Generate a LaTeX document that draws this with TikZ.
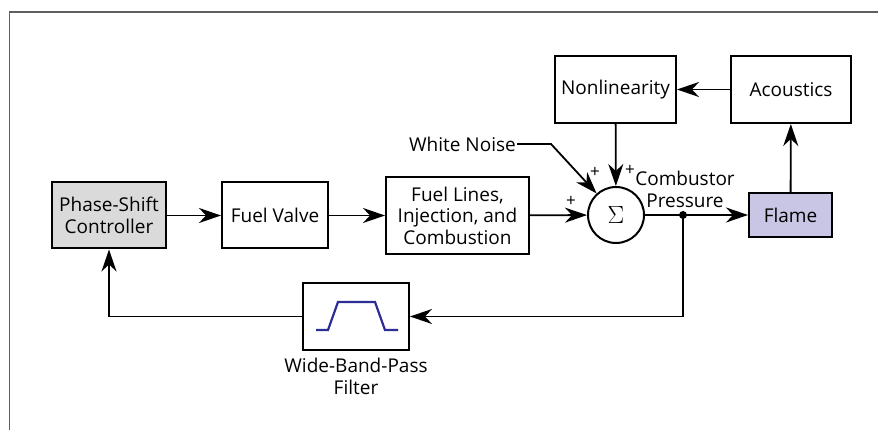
\documentclass[tikz,border=0pt]{standalone}
\usepackage{fontspec}
\setmainfont{Open Sans}
\usepackage{tikz}
\usetikzlibrary{arrows.meta}
\usepackage{xcolor}
\definecolor{framegray}{RGB}{95,95,95}
\definecolor{ctrlfill}{RGB}{218,218,218}
\definecolor{flamefill}{RGB}{200,198,228}
\definecolor{passblue}{RGB}{45,45,150}

\begin{document}
\begin{tikzpicture}[x=1pt,y=1pt,xscale=1,yscale=-1,
  blk/.style={draw, line width=2pt, align=center, inner sep=1pt, font=\fontsize{19}{21.5}\selectfont},
  wire/.style={line width=1.8pt},
  arr/.style={wire, -{Stealth[length=22pt,width=15pt,inset=7pt]}},
  sgn/.style={inner sep=0pt, font=\fontsize{17}{17}\selectfont}]
\useasboundingbox (0,0) rectangle (878,430);

%Shape: Frame
\draw [framegray, line width=1.6pt] (9.5,430) -- (9.5,12) -- (878,12) ;

%Shape: Blocks
\draw (109,215.5) node [blk, fill=ctrlfill, minimum width=114pt, minimum height=66pt] (ctrl) {Phase-Shift\\Controller};
\draw (275,215.5) node [blk, minimum width=106pt, minimum height=66pt] (valve) {Fuel Valve};
\draw (457.5,215.5) node [blk, minimum width=143pt, minimum height=77pt] (lines) {Fuel Lines,\\Injection, and\\Combustion};
\draw (616,215) node [circle, draw, line width=2pt, minimum size=56pt, inner sep=0pt, font=\fontsize{30}{30}\selectfont] (sum) {$\Sigma$};
\draw (615.5,89.5) node [blk, minimum width=121pt, minimum height=67pt] (nonlin) {Nonlinearity};
\draw (791,89.5) node [blk, minimum width=120pt, minimum height=67pt] (acoust) {Acoustics};
\draw (790.5,215) node [blk, fill=flamefill, minimum width=83pt, minimum height=44pt] (flame) {Flame};
\draw (356,316.5) node [blk, minimum width=106pt, minimum height=67pt] (filter) {};

%Curve Lines: pass band
\draw [passblue, line width=2.2pt] (316,330) -- (328,330) -- (338,302) -- (375,302) -- (385,330) -- (398,330) ;

%Straight Lines: forward path
\draw [arr] (ctrl) -- (valve) ;
\draw [arr] (valve) -- (lines) ;
\draw [arr] (lines) -- (sum) ;
\coordinate (tap) at (683,215) ;
\draw [wire] (sum) -- (tap) ;
\draw [arr] (tap) -- (flame) ;
\fill (tap) circle (4pt) ;

%Straight Lines: acoustic loop
\draw [arr] (flame) -- (acoust) ;
\draw [arr] (acoust) -- (nonlin) ;
\draw [arr] (nonlin) -- (sum) ;

%Straight Lines: feedback loop
\draw [arr] (tap) -- (683,316.5) -- (filter) ;
\draw [arr] (filter.west) -- (109,316.5) -- (ctrl) ;

%Straight Lines: noise
\draw (517,144) node [anchor=east, inner sep=1pt, font=\fontsize{19}{21.5}\selectfont] (noise) {White Noise};
\draw [arr] (noise.east) -- (551,144) -- (sum.132) ;

% Text Node
\draw (595,172) node [sgn] (pa) {+};
% Text Node
\draw (630,170) node [sgn] (pb) {+};
% Text Node
\draw (571,201) node [sgn] (pc) {+};
% Text Node
\draw (685,189.5) node [align=center, inner sep=0pt, font=\fontsize{19}{21.5}\selectfont] (press) {Combustor\\Pressure};
% Text Node
\draw (356,376.5) node [align=center, inner sep=0pt, font=\fontsize{19}{21.5}\selectfont] (flabel) {Wide-Band-Pass\\Filter};

\end{tikzpicture}
\end{document}
